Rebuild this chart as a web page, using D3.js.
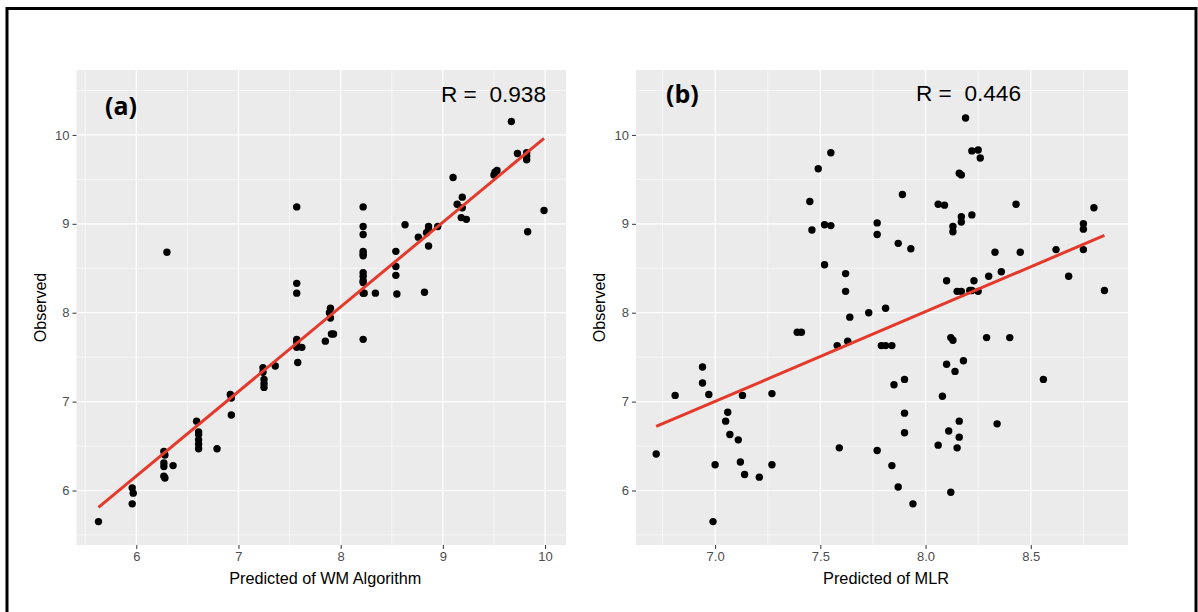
<!DOCTYPE html>
<html>
<head>
<meta charset="utf-8">
<script src="https://cdn.jsdelivr.net/npm/d3@7"></script>
<style>
  body { margin: 0; background: #fff; }
  svg { display: block; font-family: "Liberation Sans", Arial, sans-serif; }
</style>
</head>
<body>
<svg id="chart" width="1198" height="612"></svg>
<script>
// ---- data ----
const panelLabels = ["(a)", "(b)"];
const rValues = ["0.938", "0.446"];
const xTitles = ["Predicted of WM Algorithm", "Predicted of MLR"];
const yTitle = "Observed";

const yTicks = [6, 7, 8, 9, 10];
const yMinor = [5.5, 6.5, 7.5, 8.5, 9.5, 10.5];
const xTicksA = [6, 7, 8, 9, 10];
const xMinorA = [5.5, 6.5, 7.5, 8.5, 9.5];
const xTicksB = [7.0, 7.5, 8.0, 8.5];
const xMinorB = [6.75, 7.25, 7.75, 8.25, 8.75];

// (predicted, observed)
const wmPoints = [
  [5.63, 5.65], [5.96, 6.03], [5.97, 5.97], [5.96, 5.85], [6.27, 6.44], [6.28, 6.40],
  [6.27, 6.31], [6.27, 6.27], [6.36, 6.28], [6.27, 6.16], [6.28, 6.14], [6.30, 8.68],
  [6.59, 6.78], [6.61, 6.66], [6.61, 6.63], [6.61, 6.57], [6.61, 6.52], [6.61, 6.47],
  [6.79, 6.47], [6.92, 7.08], [6.93, 7.04], [6.93, 6.85], [7.24, 7.38], [7.24, 7.33],
  [7.25, 7.25], [7.25, 7.20], [7.25, 7.16], [7.36, 7.40], [7.57, 7.70], [7.57, 7.67],
  [7.57, 7.61], [7.62, 7.61], [7.58, 7.44], [7.57, 9.19], [7.57, 8.33], [7.57, 8.22],
  [7.85, 7.68], [7.89, 8.00], [7.90, 7.94], [7.91, 7.76], [7.93, 7.76], [7.90, 8.05],
  [8.22, 7.70], [8.22, 8.22], [8.23, 8.22], [8.22, 8.34], [8.22, 8.36], [8.22, 8.41],
  [8.22, 8.45], [8.22, 8.64], [8.22, 8.66], [8.22, 8.69], [8.22, 8.88], [8.22, 8.97],
  [8.22, 9.19], [8.34, 8.22], [8.54, 8.69], [8.54, 8.52], [8.54, 8.42], [8.55, 8.21],
  [8.63, 8.99], [8.76, 8.85], [8.82, 8.23], [8.84, 8.90], [8.86, 8.97], [8.86, 8.94],
  [8.95, 8.97], [8.86, 8.75], [9.10, 9.52], [9.19, 9.30], [9.14, 9.22], [9.19, 9.18],
  [9.18, 9.07], [9.23, 9.05], [9.50, 9.55], [9.51, 9.58], [9.53, 9.60], [9.67, 10.15],
  [9.73, 9.79], [9.82, 9.80], [9.82, 9.76], [9.82, 9.72], [9.99, 9.15], [9.83, 8.91]
];

const mlrPoints = [
  [7.55, 9.80], [7.49, 9.62], [7.45, 9.25], [7.52, 8.99], [7.55, 8.98], [7.46, 8.93],
  [7.52, 8.54], [7.62, 8.44], [7.62, 8.24], [7.77, 9.01], [7.77, 8.88],
  [8.19, 10.19], [8.22, 9.82], [8.25, 9.83], [8.26, 9.74], [8.16, 9.57], [8.17, 9.55],
  [7.89, 9.33], [8.06, 9.22], [8.09, 9.21], [8.43, 9.22], [8.80, 9.18], [8.17, 9.08],
  [8.17, 9.02], [8.22, 9.10], [8.13, 8.97], [8.13, 8.91], [8.75, 9.00], [8.75, 8.94],
  [8.75, 8.71], [8.62, 8.71], [7.87, 8.78], [7.93, 8.72], [8.33, 8.68], [8.45, 8.68],
  [8.68, 8.41], [8.85, 8.25], [8.10, 8.36], [8.23, 8.36], [8.30, 8.41], [8.36, 8.46],
  [8.15, 8.24], [8.17, 8.24], [8.21, 8.25], [8.22, 8.25], [8.25, 8.24], [7.81, 8.05],
  [6.72, 6.41], [6.81, 7.07], [6.94, 7.39], [6.94, 7.21], [6.97, 7.08], [7.13, 7.07],
  [7.27, 7.09], [7.06, 6.88], [7.05, 6.78], [7.07, 6.63], [7.11, 6.57], [7.00, 6.29],
  [7.12, 6.32], [7.14, 6.18], [7.21, 6.15], [7.27, 6.29], [6.99, 5.65], [7.39, 7.78],
  [7.41, 7.78], [7.58, 7.63], [7.63, 7.68], [7.64, 7.95], [7.73, 8.00], [7.59, 6.48],
  [7.77, 6.45],
  [7.79, 7.63], [7.81, 7.63], [7.84, 7.63], [8.12, 7.72], [8.13, 7.69], [8.29, 7.72],
  [8.40, 7.72], [8.10, 7.42], [8.18, 7.46], [8.14, 7.34], [7.90, 7.25], [7.85, 7.19],
  [8.56, 7.25], [8.08, 7.06], [7.90, 6.87], [7.90, 6.65], [8.16, 6.78], [8.11, 6.67],
  [8.16, 6.60], [8.06, 6.51], [8.15, 6.48], [8.34, 6.75], [7.84, 6.28], [7.87, 6.04],
  [8.12, 5.98], [7.94, 5.85]
];

// fitted lines, end points
const wmFit = [[5.63, 5.81], [9.99, 9.96]];
const mlrFit = [[6.72, 6.72], [8.85, 8.87]];

// ---- layout ----
const svg = d3.select("#chart");

svg.append("rect")
  .attr("x", 7).attr("y", 8.5)
  .attr("width", 1189).attr("height", 640)
  .attr("fill", "none").attr("stroke", "#000").attr("stroke-width", 3);

const panels = [
  {
    left: 76.5, right: 566, top: 70, bottom: 545,
    xDomain: [5.415, 10.205], yDomain: [5.387, 10.73],
    xTicks: xTicksA, xMinor: xMinorA, xFmt: d3.format("d"),
    points: wmPoints, fit: wmFit,
    label: panelLabels[0], labelPos: [105, 115],
    r: rValues[0], rPos: [441, 102],
    xTitle: xTitles[0], xTitleLen: 192
  },
  {
    left: 636, right: 1128, top: 70, bottom: 545,
    xDomain: [6.624, 8.962], yDomain: [5.387, 10.73],
    xTicks: xTicksB, xMinor: xMinorB, xFmt: d3.format(".1f"),
    points: mlrPoints, fit: mlrFit,
    label: panelLabels[1], labelPos: [666, 103],
    r: rValues[1], rPos: [916, 101],
    xTitle: xTitles[1], xTitleLen: 126
  }
];

panels.forEach(p => {
  const x = d3.scaleLinear().domain(p.xDomain).range([p.left, p.right]);
  const y = d3.scaleLinear().domain(p.yDomain).range([p.bottom, p.top]);
  const g = svg.append("g");

  g.append("rect")
    .attr("x", p.left).attr("y", p.top)
    .attr("width", p.right - p.left).attr("height", p.bottom - p.top)
    .attr("fill", "#ebebeb");

  // minor grid
  g.selectAll("line.xminor").data(p.xMinor).enter().append("line")
    .attr("x1", d => x(d)).attr("x2", d => x(d))
    .attr("y1", p.top).attr("y2", p.bottom)
    .attr("stroke", "#fff").attr("stroke-width", 0.6);
  g.selectAll("line.yminor").data(yMinor.filter(d => y(d) > p.top)).enter().append("line")
    .attr("y1", d => y(d)).attr("y2", d => y(d))
    .attr("x1", p.left).attr("x2", p.right)
    .attr("stroke", "#fff").attr("stroke-width", 0.6);

  // major grid
  g.selectAll("line.xmajor").data(p.xTicks).enter().append("line")
    .attr("x1", d => x(d)).attr("x2", d => x(d))
    .attr("y1", p.top).attr("y2", p.bottom)
    .attr("stroke", "#fff").attr("stroke-width", 1.2);
  g.selectAll("line.ymajor").data(yTicks).enter().append("line")
    .attr("y1", d => y(d)).attr("y2", d => y(d))
    .attr("x1", p.left).attr("x2", p.right)
    .attr("stroke", "#fff").attr("stroke-width", 1.2);

  // axes
  const xAxis = d3.axisBottom(x).tickValues(p.xTicks).tickFormat(p.xFmt)
    .tickSize(4).tickPadding(3);
  const yAxis = d3.axisLeft(y).tickValues(yTicks).tickFormat(d3.format("d"))
    .tickSize(4).tickPadding(3);

  const gx = g.append("g").attr("transform", `translate(0,${p.bottom})`).call(xAxis);
  const gy = g.append("g").attr("transform", `translate(${p.left},0)`).call(yAxis);
  [gx, gy].forEach(a => {
    a.select(".domain").remove();
    a.selectAll(".tick line").attr("stroke", "#333").attr("stroke-width", 1);
    a.selectAll(".tick text").attr("fill", "#4d4d4d")
      .style("font-size", "13px").style("font-family", "Liberation Sans, Arial, sans-serif");
  });

  // points
  g.selectAll("circle").data(p.points).enter().append("circle")
    .attr("cx", d => x(d[0])).attr("cy", d => y(d[1]))
    .attr("r", 3.7).attr("fill", "#000");

  // fitted line
  g.append("path")
    .datum(p.fit)
    .attr("d", d3.line().x(d => x(d[0])).y(d => y(d[1])))
    .attr("fill", "none").attr("stroke", "#e5392b").attr("stroke-width", 3);

  // annotations
  g.append("text")
    .attr("x", p.labelPos[0]).attr("y", p.labelPos[1])
    .style("font-family", "'Open Sans', 'Liberation Sans', sans-serif")
    .style("font-weight", 700).style("font-size", "25px")
    .attr("fill", "#000")
    .text(p.label);

  g.append("text")
    .attr("x", p.rPos[0]).attr("y", p.rPos[1])
    .style("font-size", "22px").attr("fill", "#000")
    .attr("xml:space", "preserve")
    .attr("textLength", 105).attr("lengthAdjust", "spacingAndGlyphs")
    .text("R =  " + p.r);

  // axis titles
  g.append("text")
    .attr("x", (p.left + p.right) / 2 + 4).attr("y", 584)
    .attr("text-anchor", "middle")
    .style("font-size", "16.5px").attr("fill", "#000")
    .attr("textLength", p.xTitleLen).attr("lengthAdjust", "spacingAndGlyphs")
    .text(p.xTitle);

  g.append("text")
    .attr("transform", `translate(${p.left - 31},${(p.top + p.bottom) / 2}) rotate(-90)`)
    .attr("text-anchor", "middle")
    .style("font-size", "16px").attr("fill", "#000")
    .text(yTitle);
});
</script>
</body>
</html>
